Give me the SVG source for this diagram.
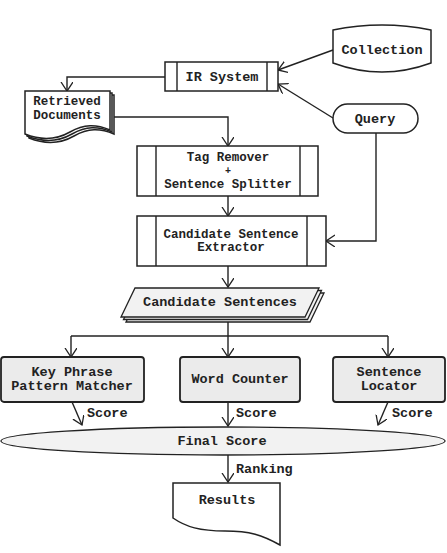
<svg xmlns="http://www.w3.org/2000/svg" width="447" height="553" viewBox="0 0 447 553">
<defs>
<marker id="ah" markerUnits="userSpaceOnUse" markerWidth="14" markerHeight="14" refX="9" refY="6" orient="auto">
<path d="M0,0 L9,6 L0,12" fill="none" stroke="#222" stroke-width="1.3"/>
</marker>
</defs>
<style>
.s{fill:#fff;stroke:#222;stroke-width:1.5}
.g{fill:#ebebeb;stroke:#222;stroke-width:1.8}
.lg{fill:#f2f2f2;stroke:#222;stroke-width:1.3}
.c{fill:none;stroke:#222;stroke-width:1.4;marker-end:url(#ah)}
.l{fill:none;stroke:#222;stroke-width:1.4}
text{font-family:"Liberation Mono","DejaVu Sans Mono",monospace;font-weight:bold;fill:#222;text-anchor:middle;font-size:13.5px}
.sm{font-size:12.5px}
.pl{font-size:10px}
.lb{text-anchor:start}
</style>
<g id="connectors">
<path class="c" d="M333,50 L278,70"/>
<path class="c" d="M333,118 L278,84"/>
<path class="c" d="M165,77 H67 V91"/>
<path class="c" d="M113,117 H228 V146"/>
<path class="c" d="M228,196 V216"/>
<path class="c" d="M376,133 V241 H326"/>
<path class="c" d="M228,266 V287"/>
<path class="l" d="M228,322 V336"/>
<path class="l" d="M71,336 H388"/>
<path class="c" d="M71,336 V357"/>
<path class="c" d="M228,336 V357"/>
<path class="c" d="M388,336 V357"/>
<path class="c" d="M72,402 L82,425"/>
<path class="c" d="M228,402 V426"/>
<path class="c" d="M388,402 L378,425"/>
<path class="c" d="M228,455 V482"/>
<text class="lb" x="87" y="417">Score</text>
<text class="lb" x="236" y="417">Score</text>
<text class="lb" x="392" y="417">Score</text>
<text class="lb" x="236" y="473">Ranking</text>
</g>
<g id="collection">
<path class="s" d="M333,30 Q382,20 431,30 V63 Q382,81 333,63 Z"/>
<text x="382" y="54">Collection</text>
</g>
<g id="ir-system">
<rect class="s" x="165" y="62" width="113" height="29"/>
<path class="l" d="M177,62 V91 M267,62 V91"/>
<text x="222" y="81">IR System</text>
</g>
<g id="query">
<rect class="s" x="333" y="104" width="85" height="29" rx="14.5"/>
<text x="375" y="123">Query</text>
</g>
<g id="retrieved-documents">
<path class="s" d="M29,95 H114 V134 C100,128 88,128 74,136 C60,144 44,144 29,138 Z"/>
<path class="s" d="M27,93 H112 V132 C98,126 86,126 72,134 C58,142 42,142 27,136 Z"/>
<path class="s" d="M25,91 H110 V130 C96,124 84,124 70,132 C56,140 40,140 25,134 Z"/>
<text class="sm" x="67" y="105">Retrieved</text>
<text class="sm" x="67" y="119">Documents</text>
</g>
<g id="tag-remover">
<rect class="s" x="137" y="146" width="181" height="50"/>
<path class="l" d="M156,146 V196 M300,146 V196"/>
<text class="sm" x="228" y="161">Tag Remover</text>
<text class="pl" x="228" y="174">+</text>
<text class="sm" x="228" y="188">Sentence Splitter</text>
</g>
<g id="extractor">
<rect class="s" x="137" y="216" width="189" height="50"/>
<path class="l" d="M156,216 V266 M307,216 V266"/>
<text class="sm" x="231" y="238">Candidate Sentence</text>
<text class="sm" x="231" y="251">Extractor</text>
</g>
<g id="candidate-sentences">
<path class="lg" d="M140,293 H324 L310,322 H126 Z"/>
<path class="lg" d="M137.5,290.5 H321.5 L307.5,319.5 H123.5 Z"/>
<path class="lg" d="M135,288 H319 L305,317 H121 Z"/>
<text x="220" y="306">Candidate Sentences</text>
</g>
<g id="key-phrase">
<rect class="g" x="1" y="357" width="143" height="45" rx="3"/>
<text x="72" y="376">Key Phrase</text>
<text x="72" y="390">Pattern Matcher</text>
</g>
<g id="word-counter">
<rect class="g" x="180" y="357" width="120" height="45" rx="3"/>
<text x="240" y="383">Word Counter</text>
</g>
<g id="sentence-locator">
<rect class="g" x="333" y="357" width="112" height="45" rx="3"/>
<text x="389" y="376">Sentence</text>
<text x="389" y="390">Locator</text>
</g>
<g id="final-score">
<ellipse class="lg" cx="223" cy="441" rx="222" ry="14"/>
<text x="222" y="445">Final Score</text>
</g>
<g id="results">
<path class="s" d="M173,483 H280 V545 C262,535 250,531 225,531 C200,531 186,527 173,518 Z"/>
<text x="227" y="504">Results</text>
</g>
</svg>
